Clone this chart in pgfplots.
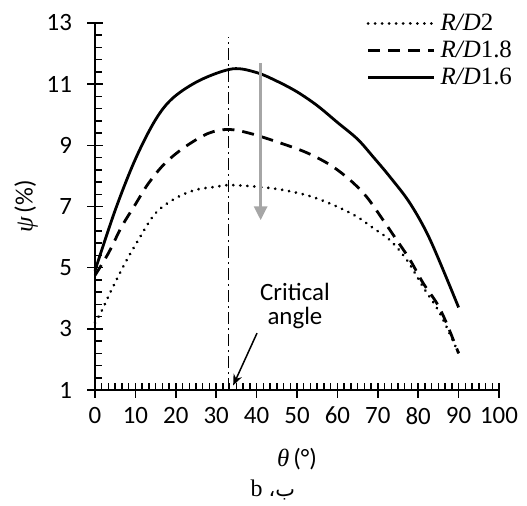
\documentclass[border=0pt]{standalone}
\usepackage{fontspec}
\setmainfont{Carlito}
\newfontfamily\serif{Liberation Serif}
\newfontfamily\arabicfont[Script=Arabic]{DejaVu Sans}
\TeXXeTstate=1
\usepackage{pgfplots}
\pgfplotsset{compat=1.18}
\usetikzlibrary{arrows.meta}
\begin{document}
\begin{tikzpicture}
\useasboundingbox (-95bp,-116bp) rectangle (432bp,390bp);
\begin{axis}[
  at={(0,0)}, anchor=south west,
  width=404bp, height=367bp, scale only axis,
  xmin=0, xmax=100, ymin=1, ymax=13,
  axis lines=left, axis line style={-, line width=1.8bp},
  xtick={0,10,...,100}, ytick={1,3,...,13},
  minor x tick num=5, minor y tick num=4,
  tick align=center,
  major tick length=15bp, minor tick length=7.5bp,
  every tick/.style={black, line width=1.5bp},
  minor x tick style={yshift=3.75bp},
  minor y tick style={xshift=3.75bp},
  tick label style={font=\fontsize{25}{25}\selectfont},
  /pgf/number format/assume math mode=true,
  xticklabel style={yshift=-6bp},
  yticklabel style={xshift=-12bp},
  xlabel={{\serif\itshape θ}\,(°)},
  ylabel={{\serif\itshape ψ}\,(\%)},
  label style={font=\fontsize{25}{25}\selectfont},
  xlabel style={yshift=-17bp},
  ylabel style={yshift=2bp},
  legend style={draw=none, fill=none, at={(rel axis cs:0.672,1.03)}, anchor=north west,
    font=\fontsize{25}{25}\selectfont\serif, row sep=5bp, inner sep=0pt,
    nodes={inner xsep=5bp}},
  legend cell align=left,
  legend image code/.code={\draw[#1] (0bp,0bp) -- (66bp,0bp);},
  clip=false,
]
\addplot[black, line width=3bp, dash pattern=on 0.01bp off 7bp, line cap=round, smooth, tension=0.55] coordinates {
(0,3.2)(1.7,3.6)(4,4.25)(7.4,5.14)(10.7,5.9)(14.9,6.77)(19.8,7.26)(24.8,7.54)(29.7,7.64)(34,7.7)(44.1,7.59)(52.4,7.37)(59,7.05)(64.8,6.67)(68.9,6.29)(73,5.9)(77.2,5.25)(81.2,4.37)(85.4,3.5)(90,2.2)};
\addlegendentry{\textit{R/D}2}
\addplot[black, line width=2.8bp, dash pattern=on 12bp off 8bp, smooth, tension=0.55] coordinates {
(0,4.75)(3.3,5.47)(6.6,6.34)(9.9,7.05)(13.2,7.75)(17.3,8.41)(22.3,8.95)(28,9.39)(33,9.52)(38.4,9.39)(45.8,9.08)(52.4,8.76)(58.2,8.36)(63.1,7.87)(67.2,7.32)(71.3,6.56)(74.7,5.9)(78,5.25)(81.2,4.5)(84.6,3.84)(87,3.19)(90,2.2)};
\addlegendentry{\textit{R/D}1.8}
\addplot[black, line width=2.8bp, smooth, tension=0.55] coordinates {
(0,4.9)(5,6.88)(9.9,8.52)(14.9,9.82)(19.3,10.55)(26,11.13)(34,11.5)(40,11.38)(45,11.1)(50,10.75)(55,10.3)(60,9.75)(65,9.2)(69,8.6)(73,7.97)(78,7.1)(83,5.9)(90,3.7)};
\addlegendentry{\textit{R/D}1.6}
\addplot[black, line width=1.6bp, dash pattern=on 12bp off 4bp on 2bp off 4bp, forget plot] coordinates {(33,1)(33,12.55)};
\addplot[gray!70, line width=3.2bp, -{Stealth[length=14bp, width=13bp, inset=0pt]}, forget plot] coordinates {(41,11.7)(41,6.55)};
\addplot[black, line width=1.5bp, -{Stealth[length=11bp, width=9bp]}, forget plot] coordinates {(40.1,2.86)(34.2,1.15)};
\node[font=\fontsize{25}{25}\selectfont, align=center] at (axis cs:49.5,3.75) {Critical\\[-1bp]angle};
\node[font=\fontsize{24}{24}\selectfont\serif] at (rel axis cs:0.44,0) [yshift=-100bp] {b \arabicfont\fontsize{21}{21}\selectfont\beginR ب،\endR};
\end{axis}
\end{tikzpicture}
\end{document}
